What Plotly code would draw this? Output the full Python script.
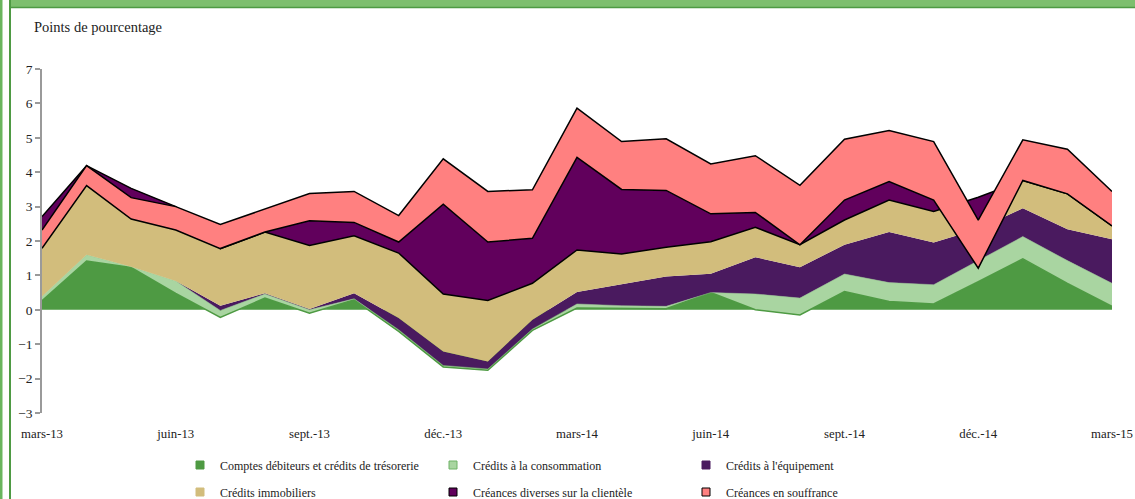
import plotly.graph_objects as go

# mars-13 .. mars-15, monthly
mois = ["mars-13", "avr.-13", "mai-13", "juin-13", "juil.-13", "août-13", "sept.-13",
        "oct.-13", "nov.-13", "déc.-13", "janv.-14", "févr.-14", "mars-14", "avr.-14",
        "mai-14", "juin-14", "juil.-14", "août-14", "sept.-14", "oct.-14", "nov.-14",
        "déc.-14", "janv.-15", "févr.-15", "mars-15"]
mois_ticks = mois[::3]

comptes_debiteurs = [0.26, 1.42, 1.23, 0.48, -0.22, 0.34, -0.10, 0.29, -0.63, -1.66, -1.76, -0.60, 0.05,
                     0.04, 0.03, 0.50, 0.00, -0.15, 0.53, 0.24, 0.17, 0.82, 1.48, 0.77, 0.10]
credits_conso = [0.13, 0.18, 0.02, 0.36, 0.20, 0.12, 0.10, 0.03, 0.05, 0.04, 0.04, 0.04, 0.12,
                 0.08, 0.07, 0.00, 0.46, 0.49, 0.51, 0.55, 0.56, 0.61, 0.65, 0.66, 0.67]
credits_equipement = [0.00, 0.00, 0.00, 0.00, 0.14, 0.02, 0.02, 0.16, 0.34, 0.41, 0.22, 0.27, 0.35,
                      0.63, 0.87, 0.55, 1.07, 0.90, 0.85, 1.47, 1.23, 0.92, 0.82, 0.91, 1.28]
credits_immobiliers = [2.32, 2.59, 2.28, 2.16, 1.66, 1.78, 1.85, 1.67, 1.89, 1.67, 1.77, 1.06, 1.22,
                       0.87, 0.85, 0.93, 0.87, 0.65, 0.72, 0.93, 0.90, 0.92, 0.81, 1.03, 0.39]
creances_diverses = [-0.92, -0.58, -0.89, -0.68, 0.00, 0.00, 0.72, 0.39, 0.32, 2.61, 1.70, 1.31, 2.69,
                     1.88, 1.65, 0.81, 0.43, 0.00, 0.58, 0.54, 0.33, -2.06, 0.00, 0.00, 0.00]
creances_souffrance = [0.53, 0.58, 0.62, 0.68, 0.70, 0.66, 0.79, 0.90, 0.77, 1.32, 1.47, 1.41, 1.43,
                       1.39, 1.50, 1.45, 1.65, 1.73, 1.77, 1.48, 1.70, 1.40, 1.18, 1.30, 1.00]

series = [
    ("Comptes débiteurs et crédits de trésorerie", comptes_debiteurs, "#4e9a43", "#4e9a43", 1.5, "legend"),
    ("Crédits à la consommation", credits_conso, "#a9d5a1", "#8fc487", 0.5, "legend"),
    ("Crédits à l'équipement", credits_equipement, "#4a1a5f", "#4a1a5f", 0, "legend"),
    ("Crédits immobiliers", credits_immobiliers, "#d2bd7c", "#000000", 1.5, "legend2"),
    ("Créances diverses sur la clientèle", creances_diverses, "#61005c", "#000000", 1.5, "legend2"),
    ("Créances en souffrance", creances_souffrance, "#ff8080", "#000000", 1.5, "legend2"),
]
legend_border = ["#4e9a43", "#6fb266", "#4a1a5f", "#d2bd7c", "#000000", "#000000"]

W, H = 1135, 499
L, R, T, B = 42, 23, 69, 86


def px_x(px):
    return (px - L) / (W - L - R)


def px_y(py):
    return (H - B - py) / (H - T - B)


font = "Liberation Serif, DejaVu Serif, serif"

fig = go.Figure()
for name, vals, fillc, linec, lw, _ in series:
    fig.add_trace(go.Scatter(
        x=mois, y=vals, name=name, stackgroup="one", mode="lines",
        fillcolor=fillc, line=dict(color=linec, width=lw if lw else 0.01),
        showlegend=False, hoverinfo="name+y",
    ))

# legend-only square markers, like the spreadsheet legend
for (name, vals, fillc, linec, lw, leg), border in zip(series, legend_border):
    fig.add_trace(go.Scatter(
        x=[None], y=[None], name=name, mode="markers", legend=leg,
        marker=dict(symbol="square", size=8, color=fillc, line=dict(color=border, width=1)),
    ))

# frame decoration
shapes = [
    dict(type="rect", xref="paper", yref="paper", x0=px_x(0), x1=px_x(2.5), y0=px_y(499), y1=px_y(0),
         fillcolor="#6ab55e", line=dict(width=0), layer="above"),
    dict(type="rect", xref="paper", yref="paper", x0=px_x(9), x1=px_x(1135), y0=px_y(7), y1=px_y(0),
         fillcolor="#7dbf6e", line=dict(width=0), layer="above"),
    dict(type="line", xref="paper", yref="paper", x0=px_x(9), x1=px_x(1135), y0=px_y(7.5), y1=px_y(7.5),
         line=dict(color="#4e9a43", width=1.5), layer="above"),
    dict(type="line", xref="paper", yref="paper", x0=px_x(10), x1=px_x(10), y0=px_y(499), y1=px_y(0),
         line=dict(color="#4e9a43", width=2), layer="above"),
]

legend_common = dict(orientation="h", xanchor="left", yanchor="middle", traceorder="normal",
                     entrywidth=208, entrywidthmode="pixels",
                     font=dict(family=font, size=12, color="#222222"),
                     bgcolor="rgba(0,0,0,0)", itemclick=False, itemdoubleclick=False)

fig.update_layout(
    width=W, height=H,
    margin=dict(l=L, r=R, t=T, b=B, autoexpand=False),
    paper_bgcolor="white", plot_bgcolor="white",
    font=dict(family=font, size=13, color="#222222"),
    shapes=shapes,
    annotations=[dict(text="Points de pourcentage", xref="paper", yref="paper",
                      x=px_x(32), y=px_y(27), xanchor="left", yanchor="middle",
                      showarrow=False, font=dict(family=font, size=14.5, color="#222222"))],
    xaxis=dict(type="category", range=[0, 24], tickvals=mois_ticks, ticktext=mois_ticks,
               showgrid=False, showline=False, zeroline=False,
               ticks="outside", ticklen=9, tickcolor="rgba(0,0,0,0)",
               tickfont=dict(family=font, size=12.8, color="#222222")),
    xaxis2=dict(overlaying="x", anchor="free", position=px_y(310), type="linear",
                range=[0, 24], tickvals=list(range(0, 25, 3)), showticklabels=False,
                showgrid=False, zeroline=False, showline=True, linecolor="#9a9a9a", linewidth=1.5,
                ticks="outside", ticklen=5, tickcolor="#9a9a9a", tickwidth=1.5, layer="above traces"),
    yaxis=dict(range=[-3, 7], dtick=1, showgrid=False, zeroline=False,
               showline=True, linecolor="#9a9a9a", linewidth=1.5,
               ticks="outside", ticklen=5, tickcolor="#9a9a9a", tickwidth=1.5,
               tickfont=dict(family=font, size=13.5, color="#222222"), layer="above traces"),
    legend=dict(x=px_x(180), y=px_y(465), **legend_common),
    legend2=dict(x=px_x(180), y=px_y(492), **legend_common),
)

fig.write_html(
    "out.html",
    config={"displayModeBar": False},
    post_script="document.body.style.margin='0';document.body.style.overflow='hidden';",
)
